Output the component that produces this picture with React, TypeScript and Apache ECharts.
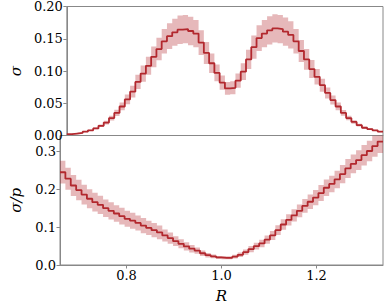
import React, { useEffect, useRef } from "react";
import * as echarts from "echarts";

const R_MIN = 0.66;
const R_MAX = 1.34;
const N_BINS = 60;

const sigma = [
  0.002, 0.003, 0.004, 0.006, 0.008, 0.011, 0.015, 0.02, 0.027, 0.035,
  0.045, 0.056, 0.068, 0.083, 0.096, 0.108, 0.122, 0.134, 0.146, 0.154,
  0.16, 0.164, 0.165, 0.162, 0.158, 0.144, 0.128, 0.112, 0.097, 0.082,
  0.073, 0.074, 0.085, 0.099, 0.118, 0.137, 0.151, 0.158, 0.163, 0.166,
  0.165, 0.161, 0.156, 0.146, 0.131, 0.118, 0.103, 0.091, 0.078, 0.066,
  0.055, 0.045, 0.035, 0.027, 0.021, 0.016, 0.012, 0.01, 0.008, 0.006,
];
const sigmaErr = [
  0.0003, 0.0004, 0.0006, 0.0008, 0.0011, 0.0015, 0.002, 0.0028, 0.0037, 0.0048,
  0.006, 0.0075, 0.009, 0.011, 0.0125, 0.014, 0.016, 0.0175, 0.019, 0.02,
  0.021, 0.022, 0.022, 0.022, 0.021, 0.019, 0.017, 0.015, 0.013, 0.011,
  0.01, 0.01, 0.011, 0.013, 0.015, 0.018, 0.02, 0.021, 0.022, 0.022,
  0.022, 0.022, 0.021, 0.019, 0.017, 0.016, 0.014, 0.012, 0.01, 0.0085,
  0.007, 0.006, 0.0045, 0.0035, 0.0028, 0.0021, 0.0016, 0.0013, 0.0011, 0.0008,
];
const ratio = [
  0.245, 0.228, 0.21, 0.198, 0.186, 0.175, 0.166, 0.159, 0.15, 0.143,
  0.136, 0.129, 0.122, 0.117, 0.111, 0.104, 0.098, 0.092, 0.086, 0.078,
  0.071, 0.063, 0.056, 0.049, 0.043, 0.038, 0.031, 0.026, 0.023, 0.02,
  0.019, 0.019, 0.022, 0.027, 0.034, 0.042, 0.05, 0.057, 0.067, 0.078,
  0.092, 0.107, 0.119, 0.131, 0.143, 0.156, 0.167, 0.178, 0.19, 0.204,
  0.214, 0.226, 0.24, 0.255, 0.267, 0.277, 0.29, 0.301, 0.314, 0.326,
];
const ratioErr = [
  0.03, 0.029, 0.028, 0.027, 0.026, 0.025, 0.025, 0.024, 0.023, 0.023,
  0.022, 0.022, 0.021, 0.021, 0.02, 0.02, 0.019, 0.019, 0.018, 0.016,
  0.015, 0.013, 0.012, 0.011, 0.01, 0.008, 0.007, 0.006, 0.005, 0.004,
  0.004, 0.004, 0.005, 0.006, 0.007, 0.008, 0.009, 0.01, 0.011, 0.012,
  0.013, 0.014, 0.015, 0.016, 0.017, 0.018, 0.019, 0.02, 0.021, 0.022,
  0.022, 0.023, 0.024, 0.025, 0.025, 0.026, 0.027, 0.027, 0.028, 0.03,
];

const xTicks = [0.8, 1.0, 1.2];
const topTicks = [0, 0.05, 0.1, 0.15, 0.2];
const bottomTicks = [0, 0.1, 0.2, 0.3];

const LINE = "#b2282e";
const BAND = "rgba(178, 34, 40, 0.32)";
const SPINE = "#888888";
const FONT = "'DejaVu Serif', 'Liberation Serif', serif";

function edges(): number[] {
  const w = (R_MAX - R_MIN) / N_BINS;
  const e: number[] = [];
  for (let i = 0; i <= N_BINS; i++) e.push(R_MIN + i * w);
  return e;
}

function stepData(vals: number[]): number[][] {
  const e = edges();
  const d = vals.map((v, i) => [e[i], v]);
  d.push([e[N_BINS], vals[vals.length - 1]]);
  return d;
}

function bandSeries(vals: number[], errs: number[], idx: number) {
  const e = edges();
  return [
    {
      type: "custom",
      xAxisIndex: idx,
      yAxisIndex: idx,
      clip: true,
      silent: true,
      data: [[e[0], vals[0]]],
      renderItem: (_params: any, api: any) => {
        const upper: number[][] = [];
        const lower: number[][] = [];
        for (let i = 0; i < vals.length; i++) {
          const hi = vals[i] + errs[i];
          const lo = vals[i] - errs[i];
          upper.push(api.coord([e[i], hi]));
          upper.push(api.coord([e[i + 1], hi]));
          lower.push(api.coord([e[i], lo]));
          lower.push(api.coord([e[i + 1], lo]));
        }
        const points = upper.concat(lower.reverse());
        return {
          type: "polygon",
          shape: { points },
          style: { fill: BAND, stroke: "none" },
        };
      },
      z: 1,
    },
    {
      type: "line",
      xAxisIndex: idx,
      yAxisIndex: idx,
      step: "end",
      symbol: "none",
      lineStyle: { color: LINE, width: 1.8 },
      data: stepData(vals),
      z: 3,
    },
  ];
}

export default function App() {
  const ref = useRef<HTMLDivElement>(null);
  useEffect(() => {
    if (!ref.current) return;
    const chart = echarts.init(ref.current, null, { renderer: "svg" });
    const labelStyle = { fontFamily: FONT, fontSize: 13, color: "#000" };
    const nameStyle = { fontFamily: FONT, fontSize: 15, fontStyle: "italic", color: "#000" };
    const xAxisBase = {
      type: "value",
      min: R_MIN,
      max: R_MAX,
      splitLine: { show: false },
      axisLine: { show: true, lineStyle: { color: SPINE, width: 1 } },
    };
    chart.setOption({
      animation: false,
      textStyle: { fontFamily: FONT },
      grid: [
        { left: 54, top: 5, width: 329, height: 130.5, show: true, borderColor: SPINE, borderWidth: 1, backgroundColor: "transparent" },
        { left: 54, top: 135.5, width: 329, height: 131, show: true, borderColor: SPINE, borderWidth: 1, backgroundColor: "transparent" },
      ],
      xAxis: [
        {
          ...xAxisBase,
          gridIndex: 0,
          axisTick: { show: false },
          axisLabel: { show: false },
        },
        {
          ...xAxisBase,
          gridIndex: 1,
          name: "R",
          nameLocation: "middle",
          nameGap: 23,
          nameTextStyle: nameStyle,
          axisTick: { show: true, length: 3.5, customValues: xTicks, lineStyle: { color: SPINE } },
          axisLabel: { ...labelStyle, margin: 4, customValues: xTicks, formatter: (v: number) => v.toFixed(1) },
        },
      ],
      yAxis: [
        {
          type: "value",
          gridIndex: 0,
          min: 0,
          max: 0.2,
          name: "σ",
          nameLocation: "middle",
          nameGap: 38,
          nameRotate: 90,
          nameTextStyle: nameStyle,
          splitLine: { show: false },
          axisLine: { show: true, lineStyle: { color: SPINE } },
          axisTick: { show: true, length: 3.5, customValues: topTicks, lineStyle: { color: SPINE } },
          axisLabel: { ...labelStyle, margin: 4, customValues: topTicks, formatter: (v: number) => v.toFixed(2) },
        },
        {
          type: "value",
          gridIndex: 1,
          min: 0,
          max: 0.342,
          name: "σ/p",
          nameLocation: "middle",
          nameGap: 37,
          nameRotate: 90,
          nameTextStyle: nameStyle,
          splitLine: { show: false },
          axisLine: { show: true, lineStyle: { color: SPINE } },
          axisTick: { show: true, length: 3.5, customValues: bottomTicks, lineStyle: { color: SPINE } },
          axisLabel: { ...labelStyle, margin: 4, customValues: bottomTicks, formatter: (v: number) => v.toFixed(1) },
        },
      ],
      series: [
        ...bandSeries(sigma, sigmaErr, 0),
        ...bandSeries(ratio, ratioErr, 1),
      ],
    });
    return () => chart.dispose();
  }, []);
  return (
    <div
      ref={ref}
      style={{ position: "fixed", left: 0, top: 0, width: 390, height: 304, background: "#fff" }}
    />
  );
}
